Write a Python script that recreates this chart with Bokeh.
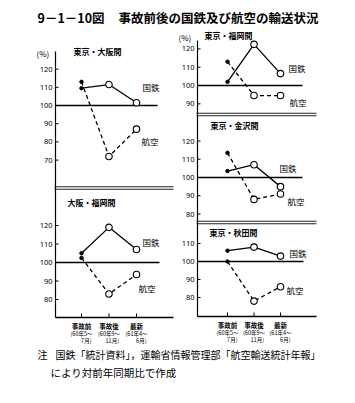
from bokeh.plotting import figure
from bokeh.models import Range1d
from bokeh.core.properties import value
from bokeh.embed import file_html
from bokeh.resources import INLINE

# ---------------- data ----------------
categories = ["事故前", "事故後", "最新"]
period_start = ["(60年5～", "(60年9～", "(61年4～"]
period_end = ["7月)", "11月)", "6月)"]
series_names = ["国鉄", "航空"]

tokyo_osaka_jnr = [109.5, 111.5, 101.5]
tokyo_osaka_air = [113, 72, 87]
osaka_fukuoka_jnr = [105, 119, 107]
osaka_fukuoka_air = [102.5, 83, 93.5]
tokyo_fukuoka_jnr = [102, 122.5, 106.5]
tokyo_fukuoka_air = [113, 94.5, 94.5]
tokyo_kanazawa_jnr = [103.5, 107, 95]
tokyo_kanazawa_air = [113.5, 88, 91]
tokyo_akita_jnr = [106, 108, 103]
tokyo_akita_air = [100, 78, 86]

ticks_tokyo_osaka = [70, 80, 90, 100, 110, 120]
ticks_osaka_fukuoka = [80, 90, 100, 110, 120]
ticks_tokyo_fukuoka = [90, 100, 110, 120]
ticks_tokyo_kanazawa = [80, 90, 100, 110, 120]
ticks_tokyo_akita = [80, 90, 100, 110]

title_num = "9－1－10図"
title_text = "事故前後の国鉄及び航空の輸送状況"
note_head = "注"
note_line1 = "国鉄「統計資料」，運輸省情報管理部「航空輸送統計年報」"
note_line2 = "により対前年同期比で作成"

# ---------------- layout ----------------
W, H = 355, 403
FONT = value("Noto Sans CJK JP")

p = figure(width=W, height=H, x_range=Range1d(0, W), y_range=Range1d(H, 0),
           x_axis_type=None, y_axis_type=None, toolbar_location=None,
           output_backend="svg", min_border=0, outline_line_color=None)
p.grid.visible = False
p.background_fill_color = "white"
p.border_fill_color = "white"

cols = {
    "L": dict(x0=81, dx=27.5, axis_x=55, axis_top=51, axis_bottom=317, right=173,
              seps=[187.5], pct=(36, 53)),
    "R": dict(x0=227, dx=26.5, axis_x=197, axis_top=40, axis_bottom=316, right=316,
              seps=[114, 222], pct=(178, 37)),
}
p.extra_x_ranges = {k: Range1d(-c["x0"] / c["dx"], (W - c["x0"]) / c["dx"]) for k, c in cols.items()}

panels = [
    dict(key="p1", name="東京・大阪間", col="L", jnr=tokyo_osaka_jnr, air=tokyo_osaka_air,
         ticks=ticks_tokyo_osaka, px100=105, pp10=18.2, title=(73, 51),
         jl=(142, 86), al=(141, 140), ref_end=157),
    dict(key="p2", name="大阪・福岡間", col="L", jnr=osaka_fukuoka_jnr, air=osaka_fukuoka_air,
         ticks=ticks_osaka_fukuoka, px100=262, pp10=18.5, title=(67, 202),
         jl=(142, 241), al=(138, 287), ref_end=159),
    dict(key="pa", name="東京・福岡間", col="R", jnr=tokyo_fukuoka_jnr, air=tokyo_fukuoka_air,
         ticks=ticks_tokyo_fukuoka, px100=85, pp10=18.3, title=(204, 35),
         jl=(288, 67), al=(289, 101), ref_end=302),
    dict(key="pb", name="東京・金沢間", col="R", jnr=tokyo_kanazawa_jnr, air=tokyo_kanazawa_air,
         ticks=ticks_tokyo_kanazawa, px100=177, pp10=18.25, title=(210, 125),
         jl=(279, 167), al=(287, 200), ref_end=302),
    dict(key="pc", name="東京・秋田間", col="R", jnr=tokyo_akita_jnr, air=tokyo_akita_air,
         ticks=ticks_tokyo_akita, px100=261, pp10=18.0, title=(209, 232),
         jl=(289, 252), al=(286, 289), ref_end=303),
]
p.extra_y_ranges = {
    pn["key"]: Range1d(100 - (H - pn["px100"]) * 10 / pn["pp10"], 100 + pn["px100"] * 10 / pn["pp10"])
    for pn in panels
}

# title
p.text(x=[37], y=[17], text=[title_num], text_font=FONT, text_font_size="12.5px",
       text_font_style="bold", text_baseline="middle", text_align="left")
p.text(x=[118], y=[17], text=[title_text], text_font=FONT, text_font_size="12.5px",
       text_font_style="bold", text_baseline="middle", text_align="left")

# column frames
idx = list(range(len(categories)))
for ck, c in cols.items():
    ax = c["axis_x"]
    p.line(x=[ax, ax], y=[c["axis_top"], c["axis_bottom"]], line_color="black", line_width=1.2)
    p.line(x=[ax, c["right"]], y=[c["axis_bottom"], c["axis_bottom"]], line_color="black", line_width=1.4)
    for s in c["seps"]:
        for dy in (-1.3, 1.3):
            p.line(x=[ax - 1, c["right"]], y=[s + dy, s + dy], line_color="#222222", line_width=1.1)
    p.text(x=[c["pct"][0]], y=[c["pct"][1]], text=["(%)"], text_font=FONT, text_font_size="8px",
           text_baseline="middle", text_align="left")
    # x ticks and category labels
    p.segment(x0=idx, x1=idx, y0=[c["axis_bottom"] - 4] * 3, y1=[c["axis_bottom"]] * 3,
              x_range_name=ck, line_color="black", line_width=1)
    p.text(x=idx, y=[c["axis_bottom"] + 8] * 3, text=categories, x_range_name=ck,
           text_font=FONT, text_font_size="6.5px", text_font_style="bold",
           text_align="center", text_baseline="middle")
    p.text(x=idx, y=[c["axis_bottom"] + 16] * 3, text=period_start, x_range_name=ck,
           text_font=FONT, text_font_size="5.5px", text_align="center", text_baseline="middle")
    p.text(x=idx, y=[c["axis_bottom"] + 23] * 3, text=period_end, x_range_name=ck, x_offset=10,
           text_font=FONT, text_font_size="5.5px", text_align="right", text_baseline="middle")

# panels
for pn in panels:
    c = cols[pn["col"]]
    ax = c["axis_x"]
    yk = pn["key"]
    n = len(pn["ticks"])
    # reference 100 line
    p.line(x=[ax, pn["ref_end"]], y=[100, 100], y_range_name=yk, line_color="black", line_width=1.3)
    # y ticks
    p.segment(x0=[ax] * n, x1=[ax + 3] * n, y0=pn["ticks"], y1=pn["ticks"], y_range_name=yk,
              line_color="black", line_width=1)
    p.text(x=[ax - 3] * n, y=pn["ticks"], text=[str(t) for t in pn["ticks"]], y_range_name=yk,
           text_font=value("Noto Sans"), text_font_size="7.5px", text_align="right",
           text_baseline="middle")
    # panel title
    p.text(x=[pn["title"][0]], y=[pn["title"][1]], text=[pn["name"]], text_font=FONT,
           text_font_size="8px", text_font_style="bold", text_baseline="middle", text_align="left")
    # series
    p.line(x=idx, y=pn["jnr"], x_range_name=pn["col"], y_range_name=yk,
           line_color="black", line_width=1.3)
    p.line(x=idx, y=pn["air"], x_range_name=pn["col"], y_range_name=yk,
           line_color="black", line_width=1.3, line_dash="4 3")
    for ser in (pn["jnr"], pn["air"]):
        p.scatter(x=idx[:1], y=ser[:1], x_range_name=pn["col"], y_range_name=yk,
                  marker="circle", size=3.5, fill_color="black", line_color="black")
        p.scatter(x=idx[1:], y=ser[1:], x_range_name=pn["col"], y_range_name=yk,
                  marker="circle", size=6.5, fill_color="white", line_color="black", line_width=1.1)
    # series labels
    p.text(x=[pn["jl"][0]], y=[pn["jl"][1]], text=[series_names[0]], text_font=FONT,
           text_font_size="8.5px", text_baseline="middle", text_align="left")
    p.text(x=[pn["al"][0]], y=[pn["al"][1]], text=[series_names[1]], text_font=FONT,
           text_font_size="8.5px", text_baseline="middle", text_align="left")

# footnote
p.text(x=[37], y=[354], text=[note_head], text_font=FONT, text_font_size="10px",
       text_baseline="middle", text_align="left")
p.text(x=[55], y=[354], text=[note_line1], text_font=FONT, text_font_size="10px",
       text_baseline="middle", text_align="left")
p.text(x=[50], y=[372], text=[note_line2], text_font=FONT, text_font_size="10.5px",
       text_baseline="middle", text_align="left")

open("out.html", "w").write(file_html(p, INLINE))
